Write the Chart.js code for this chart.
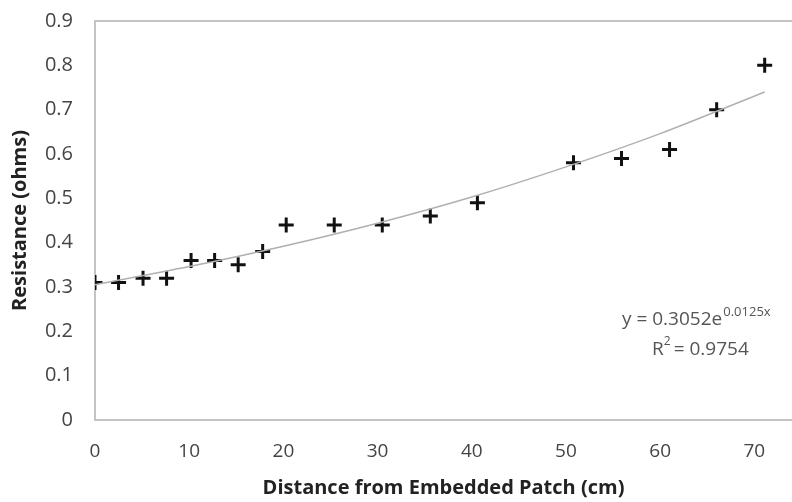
<!DOCTYPE html>
<html>
<head>
<meta charset="utf-8">
<script src="https://cdn.jsdelivr.net/npm/chart.js@4/dist/chart.umd.min.js"></script>
<style>
  html, body { margin: 0; padding: 0; background: #fff; }
  #wrap { width: 792px; height: 502px; }
</style>
</head>
<body>
<div id="wrap"><canvas id="chart" width="792" height="502"></canvas></div>
<script>
// measured points (distance cm, resistance ohms)
const distances = [0, 2.5, 5.1, 7.6, 10.2, 12.7, 15.2, 17.8, 20.3, 25.4, 30.5, 35.6, 40.6, 50.8, 55.9, 61.0, 66.0, 71.1];
const resistance = [0.31, 0.31, 0.32, 0.32, 0.36, 0.36, 0.35, 0.38, 0.44, 0.44, 0.44, 0.46, 0.49, 0.58, 0.59, 0.61, 0.70, 0.80];

// trendline
const trendX = [0, 10, 20, 30, 40, 50, 60, 71.1];
const trendY = [0.305, 0.346, 0.392, 0.444, 0.503, 0.571, 0.646, 0.740];

const eqText = 'y = 0.3052e';
const eqExp = '0.0125x';
const r2Text = '= 0.9754';

const FONT = '"Open Sans", "Liberation Sans", sans-serif';
const gray = '#c4c4c4';

// equation label
const eqPlugin = {
  id: 'eqLabel',
  afterDatasetsDraw(chart) {
    const ctx = chart.ctx;
    ctx.save();
    ctx.fillStyle = '#555';
    ctx.textBaseline = 'alphabetic';
    ctx.textAlign = 'left';
    ctx.font = '19px ' + FONT;
    let x = 622, y = 325;
    ctx.fillText(eqText, x, y);
    const w = ctx.measureText(eqText).width;
    ctx.font = '13px ' + FONT;
    ctx.fillText(eqExp, x + w + 1, y - 9);
    ctx.font = '19px ' + FONT;
    ctx.fillText('R', 652, 355);
    const rw = ctx.measureText('R').width;
    ctx.font = '12px ' + FONT;
    ctx.fillText('2', 652 + rw, 345);
    ctx.font = '19px ' + FONT;
    ctx.fillText(' ' + r2Text, 652 + rw + 5, 355);
    ctx.restore();
  }
};

new Chart(document.getElementById('chart'), {
  type: 'scatter',
  data: {
    datasets: [
      {
        label: 'trend',
        type: 'line',
        data: trendX.map((x, i) => ({ x, y: trendY[i] })),
        borderColor: '#b0b0b0',
        borderWidth: 1.5,
        pointRadius: 0,
        cubicInterpolationMode: 'monotone',
        fill: false
      },
      {
        label: 'Resistance',
        data: distances.map((x, i) => ({ x, y: resistance[i] })),
        pointStyle: 'cross',
        pointRadius: 7.5,
        borderColor: '#111',
        backgroundColor: '#111',
        borderWidth: 3
      }
    ]
  },
  plugins: [eqPlugin],
  options: {
    responsive: false,
    animation: false,
    layout: { autoPadding: false, padding: { top: 21, right: 0, left: 0, bottom: 0 } },
    plugins: { legend: { display: false }, tooltip: { enabled: false } },
    scales: {
      x: {
        type: 'linear',
        min: 0,
        max: 74,
        afterFit: s => { s.height = 82; },
        ticks: {
          stepSize: 10,
          includeBounds: false,
          color: '#444',
          font: { family: FONT, size: 19 },
          padding: 20
        },
        grid: { display: false, drawTicks: false },
        border: { color: gray, width: 2 },
        title: {
          display: true,
          text: 'Distance from Embedded Patch (cm)',
          color: '#222',
          font: { family: FONT, size: 20, weight: 'bold' },
          padding: { top: 0, bottom: 2 }
        }
      },
      y: {
        min: 0,
        max: 0.9,
        afterFit: s => { s.width = 95; s.paddingTop = 0; s.paddingBottom = 0; },
        ticks: {
          stepSize: 0.1,
          color: '#444',
          font: { family: FONT, size: 20 },
          padding: 22,
          callback: v => Number(v.toFixed(1)).toString()
        },
        grid: {
          drawTicks: false,
          color: c => c.tick && Math.abs(c.tick.value - 0.9) < 1e-6 ? gray : 'rgba(0,0,0,0)',
          lineWidth: 2
        },
        border: { color: gray, width: 2 },
        title: {
          display: true,
          text: 'Resistance (ohms)',
          color: '#222',
          font: { family: FONT, size: 20, weight: 'bold' },
          padding: { top: 8, bottom: 0 }
        }
      }
    }
  }
});
</script>
</body>
</html>
